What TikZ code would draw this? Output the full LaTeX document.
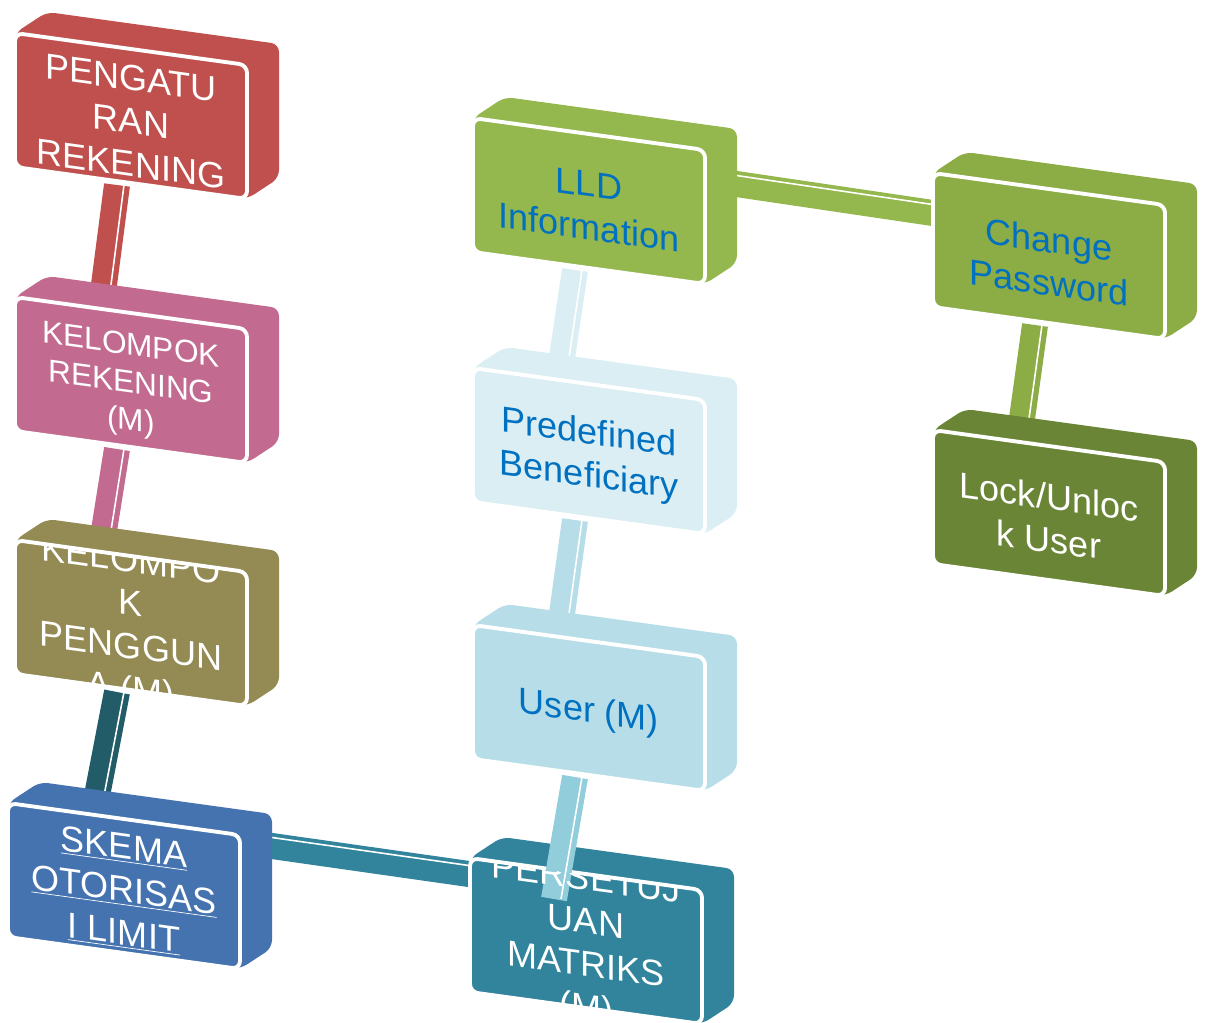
\documentclass[tikz,border=0pt]{standalone}
\usepackage{fontspec}
\setmainfont{Liberation Sans}
\usetikzlibrary{calc,backgrounds}

\pgfdeclarelayer{labels}
\pgfsetlayers{background,main,labels}

\definecolor{rekred}{HTML}{C0504D}
\definecolor{rekpink}{HTML}{C26A8F}
\definecolor{penolive}{HTML}{948A54}
\definecolor{skemablue}{HTML}{4573B0}
\definecolor{barteal}{HTML}{215C68}
\definecolor{persteal}{HTML}{31849B}
\definecolor{lldgreen}{HTML}{94B84E}
\definecolor{chggreen}{HTML}{8CAC46}
\definecolor{lockgreen}{HTML}{698535}
\definecolor{predefblue}{HTML}{DAEEF3}
\definecolor{userblue}{HTML}{B7DEE8}
\definecolor{userbar}{HTML}{92CDDC}
\definecolor{labelblue}{HTML}{0070C0}

\tikzset{
  slabtext/.style={font=\fontsize{20.5}{24.5}\selectfont, align=center, inner sep=0pt, yslant=-0.138},
  slabedge/.style={draw=white, line width=2.2pt, rounded corners=4.5pt},
  linkbar/.style={line width=0.52cm},
  barstripe/.style={draw=white, line width=0.9pt}
}

% name, x, y, colour, label options, label
\newcommand{\slab}[6]{%
\begin{scope}[shift={(#2,#3)}]
\fill[#4, rounded corners=4.5pt] (0,0) -- (32,-21) -- (264,11) -- (264,145) -- (232,166) -- (0,134) -- cycle;
\fill[#4, rounded corners=4.5pt] (0,0) -- (232,32) -- (232,166) -- (0,134) -- cycle;
\draw[slabedge] (0,0) -- (232,32) -- (232,166) -- (0,134) -- cycle;
\begin{pgfonlayer}{labels}
\begin{scope}
\clip[rounded corners=4.5pt] (1,1) -- (231,33) -- (231,165) -- (1,133) -- cycle;
\node[slabtext, #5] (#1) at (116,88) {#6};
\end{scope}
\end{pgfonlayer}
\coordinate (#1-t) at (87,3);
\coordinate (#1-b) at (102,152);
\coordinate (#1-r) at (250,64);
\coordinate (#1-l) at (20,43);
\end{scope}}

\begin{document}
\begin{tikzpicture}[x=0.02cm, y=-0.02cm]
\clip (0,0) rectangle (1209,1022);

% left column
\slab{peng}{15}{33}{rekred}{text=white}{PENGATU\\RAN\\REKENING}
\slab{kelrek}{15}{297}{rekpink}{text=white, font=\fontsize{18}{21.5}\selectfont}{KELOMPOK\\REKENING\\(M)}
\slab{kelpeng}{15}{540}{penolive}{text=white}{KELOMPO\\K\\PENGGUN\\A (M)}
\slab{skema}{8}{803}{skemablue}{text=white}{\underline{SKEMA}\\\underline{OTORISAS}\\\underline{I LIMIT}}

% middle column
\slab{lld}{473}{118}{lldgreen}{text=labelblue}{LLD\\Information}
\slab{predef}{473}{368}{predefblue}{text=labelblue}{Predefined\\Beneficiary}
\slab{user}{473}{625}{userblue}{text=labelblue}{User (M)}
\slab{pers}{470}{858}{persteal}{text=white}{PERSETUJ\\UAN\\MATRIKS\\(M)}

% right column
\slab{chg}{933}{173}{chggreen}{text=labelblue}{Change\\Password}
\slab{lock}{933}{430}{lockgreen}{text=white}{Lock/Unloc\\k User}

\begin{scope}[on background layer]
\foreach \from/\to/\col in {peng/kelrek/rekred, kelrek/kelpeng/rekpink, kelpeng/skema/barteal, lld/predef/predefblue, predef/user/userblue, chg/lock/chggreen} {
  \draw[linkbar, draw=\col] (\from-b) -- (\to-t);
  \draw[barstripe] ($(\from-b)+(7,0)$) -- ($(\to-t)+(7,0)$);
}
\draw[linkbar, draw=lldgreen] (lld-r) -- (chg-l);
\draw[barstripe] ($(lld-r)+(0,-8.5)$) -- ($(chg-l)+(0,-8.5)$);
\draw[linkbar, draw=persteal] ($(skema-r)+(0,-23)$) -- ($(pers-l)+(0,-24)$);
\draw[barstripe] ($(skema-r)+(0,-31.5)$) -- ($(pers-l)+(0,-32.5)$);
\end{scope}

% this one lies over the lower box
\coordinate (persend) at ($(pers-t)+(-3,38)$);
\draw[linkbar, draw=userbar] (user-b) -- (persend);
\draw[barstripe] ($(user-b)+(7,0)$) -- ($(persend)+(7,0)$);
\end{tikzpicture}
\end{document}
